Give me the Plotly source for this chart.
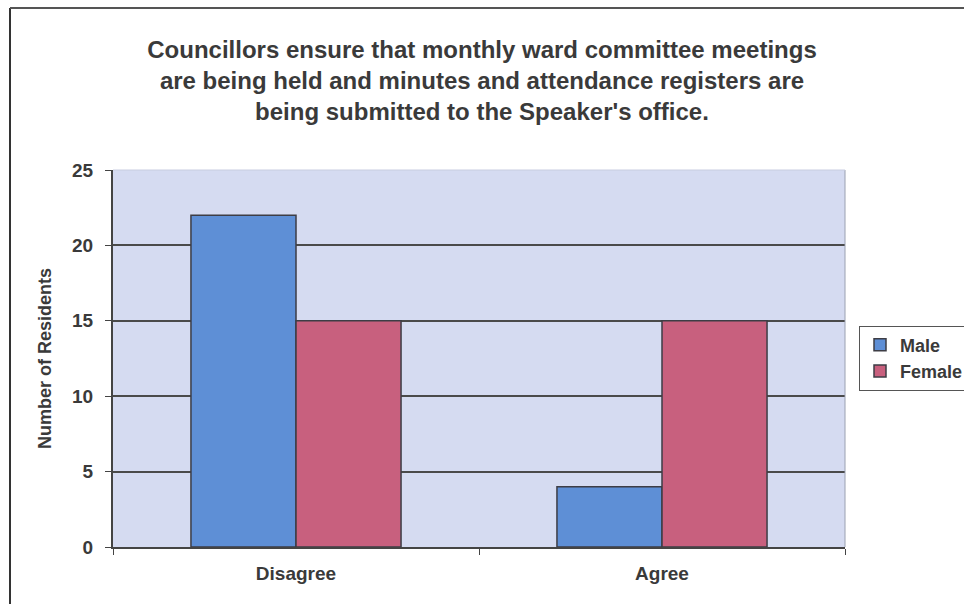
import plotly.graph_objects as go

# Survey responses by gender
categories = ["Disagree", "Agree"]
male = [22, 4]
female = [15, 15]
y_ticks = [0, 5, 10, 15, 20, 25]

title_text = ("Councillors ensure that monthly ward committee meetings<br>"
              "are being held and minutes and attendance registers are<br>"
              "being submitted to the Speaker's office.")

W, H = 964, 604
L, R, T, B = 113, 119, 170, 57
pw, ph = W - L - R, H - T - B

def px_x(x):
    return (x - L) / pw

def px_y(y):
    return (H - B - y) / ph

font_main = "Liberation Sans, Arial, sans-serif"
txt = "#3a3a3a"

fig = go.Figure()
fig.add_trace(go.Bar(
    name="<b>Male</b>", x=categories, y=male,
    marker=dict(color="#5e8fd6", line=dict(color="#3d3d45", width=1.5)),
))
fig.add_trace(go.Bar(
    name="<b>Female</b>", x=categories, y=female,
    marker=dict(color="#c8607e", line=dict(color="#3d3d45", width=1.5)),
))

fig.update_layout(
    width=W, height=H,
    margin=dict(l=L, r=R, t=T, b=B, autoexpand=False),
    paper_bgcolor="white",
    plot_bgcolor="#d5dbf1",
    barmode="group",
    bargap=0.426,
    bargroupgap=0,
    font=dict(family=font_main, color=txt),
    title=dict(
        text="<b>" + title_text + "</b>",
        x=482 / W, xanchor="center",
        y=1 - 58 / H, yanchor="top",
        font=dict(size=24, color=txt, family=font_main),
    ),
    legend=dict(
        xref="container", yref="container",
        x=859 / W, y=1 - 358 / H, xanchor="left", yanchor="middle",
        bordercolor="#555555", borderwidth=1, bgcolor="white",
        font=dict(size=18, color=txt, family=font_main),
        itemwidth=30, tracegroupgap=0,
    ),
    showlegend=True,
)

fig.update_xaxes(
    showline=True, linecolor="#444444", linewidth=2,
    ticks="outside", tickson="boundaries", ticklen=6, tickcolor="#444444",
    tickfont=dict(size=19, color=txt, family=font_main),
    tickvals=categories, ticktext=["<b>" + c + "</b>" for c in categories],
    ticklabelstandoff=8,
    showgrid=False, mirror=False,
)
fig.update_yaxes(
    range=[0, 25], tickvals=y_ticks,
    ticktext=["<b>%d</b>" % v for v in y_ticks],
    showline=True, linecolor="#444444", linewidth=2,
    ticks="outside", ticklen=6, tickcolor="#444444",
    tickfont=dict(size=19, color=txt, family=font_main),
    ticklabelstandoff=8,
    showgrid=True, gridcolor="#4a4a4a", gridwidth=1.5,
    title=dict(text="<b>Number of Residents</b>", standoff=16,
               font=dict(size=18, color=txt, family=font_main)),
    zeroline=False,
)

# Light right and top edges of the plot area
fig.add_shape(type="line", xref="paper", yref="paper", x0=1, x1=1, y0=0, y1=1,
              line=dict(color="#9aa0b0", width=1))
fig.add_shape(type="line", xref="paper", yref="paper", x0=0, x1=1, y0=1, y1=1,
              line=dict(color="#c8cde0", width=1))

# Outer chart frame
fig.add_shape(type="line", xref="paper", yref="paper",
              x0=px_x(10), x1=px_x(10), y0=px_y(604), y1=px_y(8),
              line=dict(color="#333333", width=2))
fig.add_shape(type="line", xref="paper", yref="paper",
              x0=px_x(10), x1=px_x(964), y0=px_y(8), y1=px_y(8),
              line=dict(color="#555555", width=2))

fig.write_html("out.html")
